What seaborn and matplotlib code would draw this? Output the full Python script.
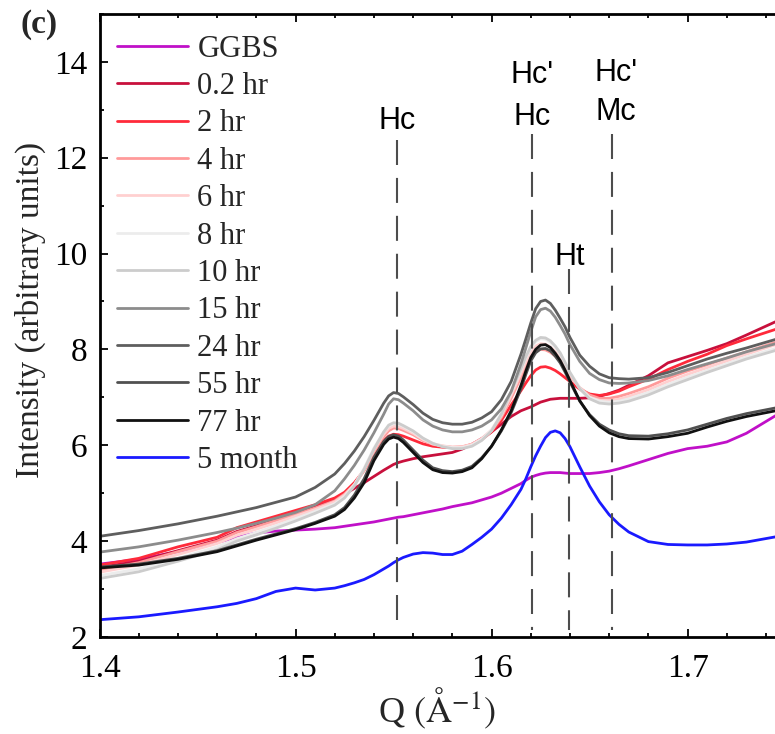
import numpy as np
import pandas as pd
import matplotlib
matplotlib.use("Agg")
import matplotlib.pyplot as plt
import seaborn as sns
from matplotlib.ticker import MultipleLocator
from matplotlib.lines import Line2D

# ---------------- data ----------------
Q = [1.400, 1.420, 1.440, 1.460, 1.470, 1.480, 1.490, 1.500, 1.510, 1.520,
     1.525, 1.530, 1.535, 1.540, 1.545, 1.5475, 1.550, 1.5525, 1.555, 1.560,
     1.565, 1.570, 1.575, 1.580, 1.585, 1.590, 1.595, 1.600, 1.605, 1.610,
     1.615, 1.6175, 1.620, 1.6225, 1.625, 1.6275, 1.630, 1.6325, 1.635, 1.6375,
     1.640, 1.645, 1.650, 1.655, 1.660, 1.665, 1.670, 1.680, 1.690, 1.700,
     1.710, 1.720, 1.730, 1.745]

ggbs = [3.52, 3.62, 3.78, 3.97, 4.08, 4.17, 4.21, 4.23, 4.25, 4.28,
        4.31, 4.34, 4.37, 4.40, 4.44, 4.46, 4.48, 4.50, 4.51, 4.55,
        4.59, 4.63, 4.67, 4.72, 4.76, 4.80, 4.86, 4.92, 5.00, 5.10,
        5.20, 5.27, 5.33, 5.37, 5.40, 5.42, 5.43, 5.43, 5.43, 5.42,
        5.41, 5.41, 5.41, 5.43, 5.46, 5.51, 5.57, 5.70, 5.83, 5.93,
        5.98, 6.07, 6.25, 6.62]
hr_0_2 = [3.45, 3.58, 3.80, 4.02, 4.20, 4.32, 4.45, 4.58, 4.72, 4.88,
          4.98, 5.10, 5.22, 5.35, 5.48, 5.54, 5.60, 5.64, 5.67, 5.72,
          5.76, 5.79, 5.82, 5.85, 5.92, 6.02, 6.14, 6.28, 6.44, 6.60,
          6.72, 6.76, 6.80, 6.85, 6.90, 6.93, 6.96, 6.97, 6.98, 6.98,
          6.98, 6.98, 6.99, 7.02, 7.08, 7.15, 7.25, 7.45, 7.72, 7.85,
          7.98, 8.12, 8.30, 8.58]
hr_2 = [3.50, 3.64, 3.88, 4.08, 4.28, 4.40, 4.52, 4.64, 4.76, 4.90,
        5.02, 5.22, 5.48, 5.83, 6.10, 6.19, 6.23, 6.22, 6.19, 6.11,
        6.03, 5.98, 5.96, 5.95, 5.96, 6.02, 6.12, 6.28, 6.52, 6.84,
        7.14, 7.30, 7.45, 7.57, 7.63, 7.64, 7.61, 7.56, 7.49, 7.41,
        7.33, 7.17, 7.07, 7.04, 7.07, 7.13, 7.22, 7.38, 7.58, 7.75,
        7.90, 8.08, 8.22, 8.42]
hr_4 = [3.40, 3.55, 3.78, 4.00, 4.18, 4.30, 4.43, 4.56, 4.69, 4.84,
        4.98, 5.18, 5.47, 5.85, 6.18, 6.30, 6.36, 6.35, 6.31, 6.22,
        6.10, 6.02, 5.98, 5.96, 5.97, 6.02, 6.13, 6.30, 6.58, 6.98,
        7.42, 7.65, 7.84, 7.96, 8.00, 7.99, 7.94, 7.86, 7.75, 7.60,
        7.45, 7.20, 7.05, 6.98, 6.98, 7.02, 7.08, 7.22, 7.40, 7.55,
        7.68, 7.82, 7.95, 8.15]
hr_6 = [3.35, 3.50, 3.72, 3.95, 4.12, 4.25, 4.38, 4.52, 4.66, 4.82,
        4.96, 5.18, 5.50, 5.90, 6.23, 6.35, 6.40, 6.39, 6.35, 6.25,
        6.12, 6.03, 5.99, 5.96, 5.97, 6.02, 6.14, 6.32, 6.62, 7.04,
        7.50, 7.74, 7.94, 8.07, 8.12, 8.11, 8.05, 7.96, 7.83, 7.66,
        7.48, 7.18, 7.00, 6.94, 6.93, 6.96, 7.02, 7.16, 7.33, 7.48,
        7.62, 7.76, 7.90, 8.10]
hr_8 = [3.28, 3.42, 3.64, 3.88, 4.05, 4.18, 4.32, 4.47, 4.62, 4.78,
        4.93, 5.17, 5.52, 5.94, 6.28, 6.40, 6.45, 6.44, 6.39, 6.28,
        6.14, 6.04, 5.98, 5.95, 5.95, 6.00, 6.12, 6.32, 6.65, 7.10,
        7.57, 7.82, 8.02, 8.16, 8.22, 8.21, 8.15, 8.05, 7.91, 7.72,
        7.52, 7.20, 7.00, 6.92, 6.90, 6.92, 6.97, 7.10, 7.27, 7.42,
        7.56, 7.70, 7.84, 8.02]
hr_10 = [3.22, 3.36, 3.58, 3.82, 4.00, 4.13, 4.27, 4.42, 4.58, 4.75,
         4.90, 5.15, 5.50, 5.92, 6.28, 6.42, 6.47, 6.46, 6.41, 6.30,
         6.15, 6.04, 5.97, 5.93, 5.93, 5.98, 6.10, 6.30, 6.65, 7.12,
         7.60, 7.85, 8.06, 8.19, 8.25, 8.24, 8.18, 8.07, 7.93, 7.73,
         7.52, 7.18, 6.97, 6.88, 6.86, 6.88, 6.92, 7.05, 7.22, 7.37,
         7.52, 7.66, 7.80, 7.98]
hr_15 = [3.77, 3.88, 4.02, 4.18, 4.27, 4.37, 4.48, 4.60, 4.76, 5.05,
         5.30, 5.58, 5.90, 6.26, 6.65, 6.86, 6.97, 6.95, 6.88, 6.72,
         6.53, 6.40, 6.32, 6.28, 6.28, 6.32, 6.40, 6.53, 6.76, 7.12,
         7.70, 8.03, 8.37, 8.68, 8.83, 8.86, 8.80, 8.67, 8.50, 8.32,
         8.10, 7.75, 7.50, 7.37, 7.30, 7.29, 7.30, 7.35, 7.45, 7.58,
         7.70, 7.82, 7.95, 8.12]
hr_24 = [4.10, 4.22, 4.36, 4.52, 4.61, 4.70, 4.81, 4.92, 5.12, 5.40,
         5.62, 5.88, 6.18, 6.52, 6.88, 7.03, 7.10, 7.08, 7.01, 6.85,
         6.67, 6.54, 6.47, 6.44, 6.44, 6.48, 6.57, 6.70, 6.95, 7.33,
         7.90, 8.22, 8.55, 8.85, 9.00, 9.03, 8.96, 8.82, 8.65, 8.47,
         8.25, 7.88, 7.65, 7.49, 7.41, 7.39, 7.38, 7.41, 7.52, 7.66,
         7.80, 7.92, 8.03, 8.21]
hr_55 = [3.46, 3.52, 3.64, 3.80, 3.92, 4.04, 4.15, 4.26, 4.39, 4.55,
         4.70, 4.96, 5.30, 5.75, 6.08, 6.18, 6.22, 6.19, 6.11, 5.90,
         5.69, 5.53, 5.47, 5.45, 5.48, 5.56, 5.74, 5.98, 6.30, 6.68,
         7.18, 7.48, 7.76, 7.93, 8.01, 8.02, 7.97, 7.86, 7.72, 7.53,
         7.32, 6.92, 6.64, 6.44, 6.32, 6.24, 6.20, 6.19, 6.24, 6.32,
         6.44, 6.56, 6.66, 6.78]
hr_77 = [3.44, 3.50, 3.62, 3.78, 3.90, 4.02, 4.13, 4.24, 4.37, 4.52,
         4.66, 4.90, 5.22, 5.68, 6.02, 6.13, 6.17, 6.14, 6.06, 5.85,
         5.64, 5.49, 5.43, 5.42, 5.45, 5.53, 5.72, 5.98, 6.32, 6.72,
         7.25, 7.55, 7.83, 8.00, 8.09, 8.10, 8.04, 7.92, 7.77, 7.57,
         7.35, 6.93, 6.62, 6.40, 6.26, 6.18, 6.14, 6.13, 6.18, 6.25,
         6.38, 6.50, 6.60, 6.72]
month_5 = [2.36, 2.42, 2.52, 2.63, 2.70, 2.80, 2.95, 3.02, 2.98, 3.02,
           3.07, 3.13, 3.20, 3.30, 3.42, 3.48, 3.55, 3.61, 3.66, 3.73,
           3.76, 3.75, 3.72, 3.72, 3.79, 3.93, 4.08, 4.25, 4.48, 4.76,
           5.08, 5.30, 5.55, 5.78, 5.98, 6.16, 6.27, 6.30, 6.26, 6.14,
           5.97, 5.55, 5.15, 4.82, 4.55, 4.35, 4.19, 3.99, 3.93, 3.92,
           3.92, 3.94, 3.98, 4.09]

series_names = ["GGBS", "0.2 hr", "2 hr", "4 hr", "6 hr", "8 hr", "10 hr",
                "15 hr", "24 hr", "55 hr", "77 hr", "5 month"]
series_values = [ggbs, hr_0_2, hr_2, hr_4, hr_6, hr_8, hr_10,
                 hr_15, hr_24, hr_55, hr_77, month_5]
series_colors = ["#c010c8", "#c8103c", "#ff2a3a", "#ff9a9a", "#ffd0d0",
                 "#ececec", "#cccccc", "#8c8c8c", "#5e5e5e", "#505050",
                 "#111111", "#1a1aff"]

# reference (phase) lines and their labels
ref_q = [1.552, 1.6205, 1.6393, 1.6612]
ref_top = [12.36, 12.5, 9.68, 12.5]
ref_bottom = [2.15, 2.15, 2.15, 2.15]
annot_text = ["Hc", "Hc'", "Hc", "Hc'", "Mc", "Ht"]
annot_q = [1.552, 1.6205, 1.6205, 1.6635, 1.6635, 1.6400]
annot_y = [12.77, 13.72, 12.86, 13.76, 12.96, 9.93]

# ---------------- drawing ----------------
sns.set_theme(style="ticks")
plt.rcParams["font.family"] = ["Liberation Serif", "DejaVu Serif"]
plt.rcParams["mathtext.fontset"] = "stix"

df = pd.DataFrame({
    "Q": np.tile(Q, len(series_names)),
    "I": np.concatenate(series_values),
    "sample": np.repeat(series_names, len(Q)),
})

fig = plt.figure(figsize=(7.75, 7.34), dpi=100)
ax = fig.add_axes([0.1284, 0.1322, 0.8716, 0.8488])

sns.lineplot(data=df, x="Q", y="I", hue="sample", hue_order=series_names,
             palette=dict(zip(series_names, series_colors)), estimator=None,
             sort=False, linewidth=2.0, ax=ax, legend=False)
for ln in ax.get_lines():
    ln.set_solid_joinstyle("round")

ax.vlines(ref_q, ref_top, ref_bottom, colors="#4d4d4d",
          linestyles=[(0, (12, 6.2))], linewidth=1.5, zorder=5)
for s, xq, yv in zip(annot_text, annot_q, annot_y):
    ax.text(xq, yv, s, ha="center", va="center", fontsize=22,
            family=["Liberation Sans", "DejaVu Sans"], color="black")

ax.set_xlim(1.4, 1.7446)
ax.set_ylim(2, 15)
ax.xaxis.set_minor_locator(MultipleLocator(0.02))
ax.yaxis.set_major_locator(MultipleLocator(2))
ax.yaxis.set_minor_locator(MultipleLocator(1))
ax.set_xticks([1.4, 1.5, 1.6, 1.7])
ax.set_xticklabels(["1.4", "1.5", "1.6", "1.7"])

ax.spines["right"].set_visible(False)
for sp in ["left", "top", "bottom"]:
    ax.spines[sp].set_linewidth(2.0)
    ax.spines[sp].set_color("black")

ax.tick_params(which="both", direction="in", top=True, right=False,
               width=1.3, color="black", labelsize=24, labelcolor="black")
ax.tick_params(which="major", length=6)
ax.tick_params(which="minor", length=3)
ax.tick_params(axis="x", which="major", pad=12)
ax.tick_params(axis="y", which="major", pad=9)

ax.set_xlabel(r"Q $\left(\mathrm{\AA}^{-1}\right)$", fontsize=26)
ax.set_ylabel("Intensity (arbitrary units)", fontsize=24)
ax.yaxis.set_label_coords(-0.079, 0.525)
ax.xaxis.set_label_coords(0.5, -0.078)

handles = [Line2D([], [], color=c, lw=2.0) for c in series_colors]
ax.legend(handles, series_names, loc="upper left", bbox_to_anchor=(0.026, 0.967),
          frameon=False, fontsize=22, handlelength=2.33, handletextpad=0.3,
          labelspacing=0.275, borderpad=0, borderaxespad=0)

fig.text(39 / 775, 1 - 25 / 734, "(c)", ha="center", va="center",
         fontsize=24, fontweight="bold")

fig.savefig("out.png", dpi=100)
